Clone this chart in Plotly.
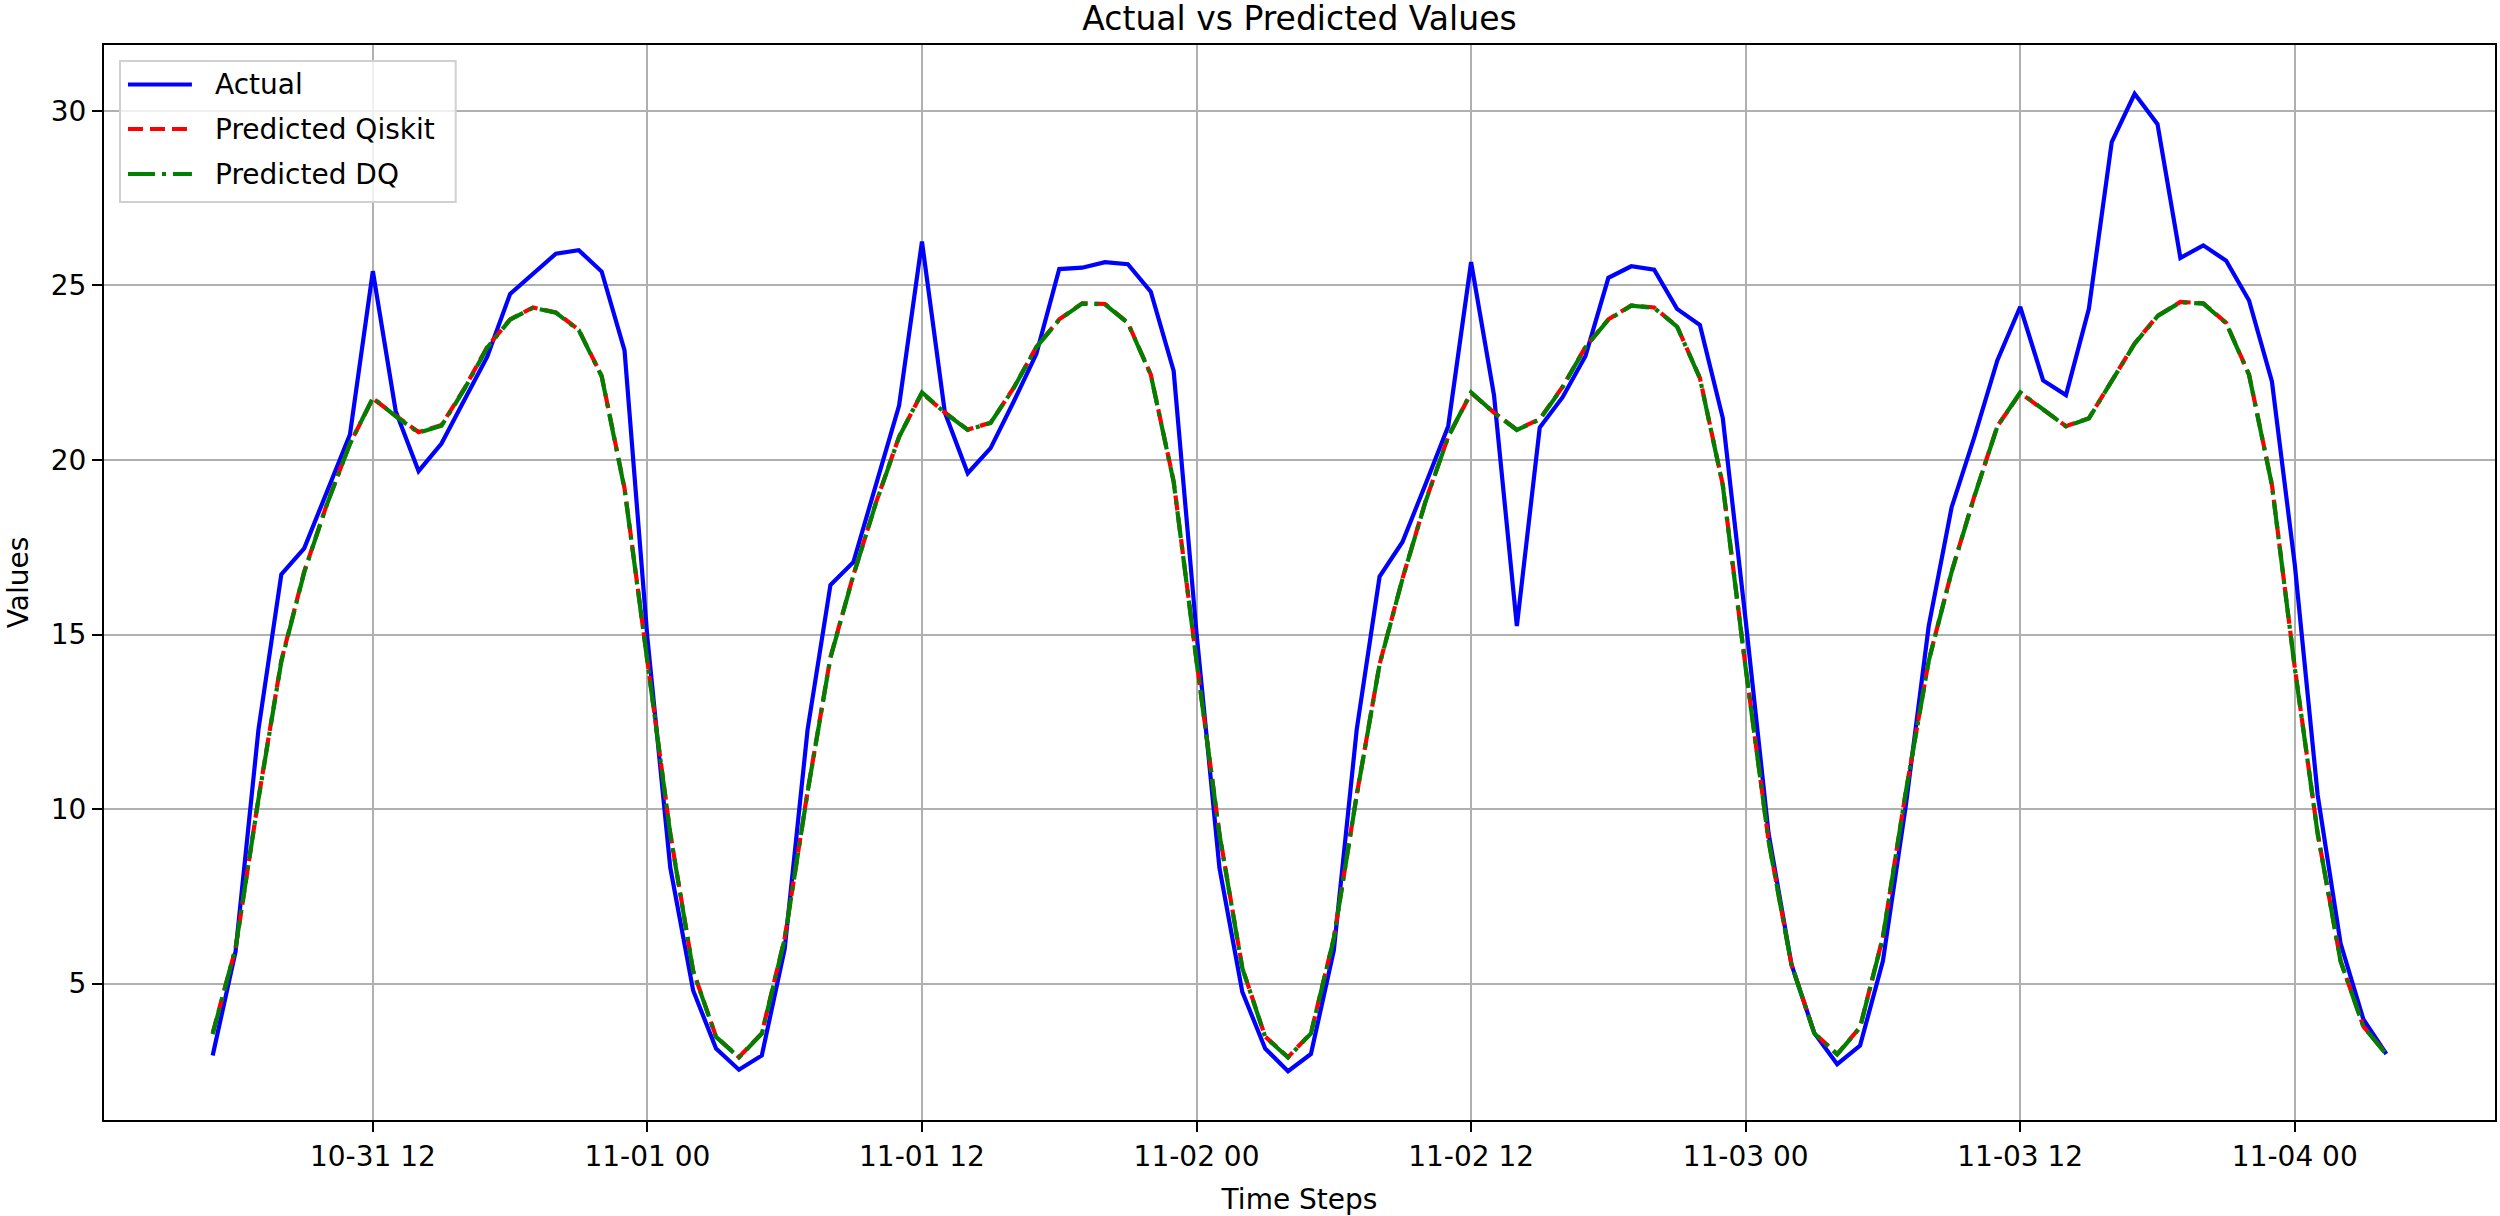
import pandas as pd
import plotly.graph_objs as go

# hourly time steps, 10-31 05:00 -> 11-04 04:00
time_steps = pd.date_range("2024-10-31 05:00", periods=96, freq="h")

actual = [
    2.94, 5.91, 12.27, 16.72, 17.47, 19.09, 20.73, 25.41, 21.40, 19.68, 20.47, 21.72,
    22.96, 24.76, 25.32, 25.91, 26.01, 25.40, 23.14, 14.90, 8.32, 4.80, 3.14, 2.53,
    2.94, 5.99, 12.27, 16.42, 17.07, 19.29, 21.56, 26.26, 21.36, 19.62, 20.34, 21.66,
    23.04, 25.47, 25.51, 25.67, 25.61, 24.82, 22.55, 15.04, 8.32, 4.76, 3.14, 2.49,
    2.98, 5.95, 12.27, 16.66, 17.65, 19.29, 20.97, 25.67, 21.86, 15.24, 20.93, 21.80,
    22.98, 25.22, 25.55, 25.45, 24.33, 23.87, 21.20, 15.40, 9.31, 5.55, 3.58, 2.69,
    3.22, 5.65, 10.10, 15.24, 18.64, 20.67, 22.85, 24.39, 22.28, 21.86, 24.33, 29.11,
    30.49, 29.62, 25.79, 26.15, 25.71, 24.57, 22.25, 17.00, 10.40, 6.15, 3.97, 2.98,
]

pred_qiskit = [
    3.58, 6.00, 10.30, 14.25, 16.80, 18.75, 20.47, 21.76, 21.27, 20.80, 21.00, 22.05,
    23.24, 24.03, 24.37, 24.23, 23.73, 22.41, 19.19, 14.25, 9.30, 5.36, 3.48, 2.89,
    3.58, 6.30, 10.50, 14.35, 16.70, 18.80, 20.67, 21.92, 21.36, 20.87, 21.07, 22.06,
    23.24, 24.03, 24.49, 24.47, 23.93, 22.45, 19.39, 14.25, 9.30, 5.45, 3.48, 2.89,
    3.58, 6.30, 10.40, 14.15, 16.60, 18.80, 20.67, 21.92, 21.36, 20.87, 21.17, 22.10,
    23.24, 24.03, 24.43, 24.37, 23.83, 22.35, 19.29, 14.05, 9.10, 5.55, 3.58, 2.98,
    3.75, 6.34, 10.50, 14.25, 16.80, 18.97, 20.97, 21.92, 21.46, 20.97, 21.20, 22.25,
    23.34, 24.13, 24.53, 24.49, 23.93, 22.45, 19.29, 14.05, 9.30, 5.65, 3.77, 2.98,
]

pred_dq = [
    3.55, 6.02, 10.28, 14.22, 16.78, 18.74, 20.46, 21.78, 21.25, 20.78, 20.98, 22.03,
    23.22, 24.02, 24.36, 24.22, 23.72, 22.40, 19.17, 14.22, 9.28, 5.35, 3.47, 2.88,
    3.56, 6.28, 10.48, 14.33, 16.69, 18.79, 20.66, 21.94, 21.35, 20.86, 21.06, 22.05,
    23.23, 24.02, 24.48, 24.46, 23.92, 22.44, 19.37, 14.23, 9.28, 5.44, 3.47, 2.88,
    3.57, 6.29, 10.39, 14.14, 16.59, 18.79, 20.66, 21.94, 21.35, 20.86, 21.16, 22.09,
    23.23, 24.02, 24.42, 24.36, 23.82, 22.34, 19.27, 14.03, 9.09, 5.54, 3.57, 2.97,
    3.74, 6.33, 10.49, 14.24, 16.79, 18.96, 20.96, 21.94, 21.45, 20.96, 21.19, 22.24,
    23.33, 24.12, 24.52, 24.48, 23.92, 22.44, 19.28, 14.04, 9.29, 5.64, 3.76, 2.97,
]

y_ticks = [5, 10, 15, 20, 25, 30]

series_names = ['Actual', 'Predicted Qiskit', 'Predicted DQ']
series_colors = ['blue', 'red', 'green']
series_dashes = ['solid', '15px,7px', '27px,7px,4px,7px']
series_values = [actual, pred_qiskit, pred_dq]

LW = 4.2

traces = []
for name, color, dash, vals in zip(series_names, series_colors, series_dashes, series_values):
    traces.append(go.Scatter(
        x=time_steps,
        y=vals,
        mode='lines',
        name=name,
        showlegend=False,
        line=dict(color=color, width=LW, dash=dash)
    ))

# matplotlib-like legend (long line samples), drawn in paper coords
W, H = 2500, 1216
ml, mr, mt, mb = 104, 3, 45, 96
pw, ph = W - ml - mr, H - mt - mb


def px(x):
    return (x - ml) / pw


def py(y):
    return 1 - (y - mt) / ph


shapes = [dict(
    type='rect', xref='paper', yref='paper',
    x0=px(120), x1=px(456), y0=py(202), y1=py(61),
    line=dict(color='#d0d0d0', width=2), fillcolor='rgba(255,255,255,0.8)',
    layer='above'
)]
annotations = []
row_y = [84.5, 129, 174]
for name, color, dash, ry in zip(series_names, series_colors, series_dashes, row_y):
    shapes.append(dict(
        type='line', xref='paper', yref='paper',
        x0=px(128), x1=px(192), y0=py(ry), y1=py(ry),
        line=dict(color=color, width=LW, dash=dash), layer='above'
    ))
    annotations.append(dict(
        text=name, xref='paper', yref='paper',
        x=px(213), y=py(ry), xanchor='left', yanchor='middle',
        showarrow=False, font=dict(size=28, color='black')
    ))

font_family = 'DejaVu Sans'

layout = go.Layout(
    width=W,
    height=H,
    margin=dict(l=ml, r=mr, t=mt, b=mb),
    paper_bgcolor='white',
    plot_bgcolor='white',
    font=dict(family=font_family, size=28, color='black'),
    title=dict(
        text='Actual vs Predicted Values',
        x=0.5, xref='paper', xanchor='center',
        y=1 - 18 / H, yref='container', yanchor='middle',
        font=dict(size=33, color='black')
    ),
    xaxis=dict(
        title=dict(text='Time Steps', font=dict(size=28), standoff=18),
        range=['2024-10-31 00:15', '2024-11-04 08:45'],
        tick0='2024-10-31 00:00',
        dtick=12 * 3600 * 1000,
        tickformat='%m-%d %H',
        ticks='outside', ticklen=10, tickwidth=2.2, tickcolor='black',
        showline=True, linecolor='black', linewidth=2.2, mirror=True,
        showgrid=True, gridcolor='#b0b0b0', gridwidth=2.2,
        zeroline=False
    ),
    yaxis=dict(
        title=dict(text='Values', font=dict(size=28), standoff=14),
        range=[1.09, 31.89],
        tickvals=y_ticks,
        ticks='outside', ticklen=10, tickwidth=2.2, tickcolor='black',
        showline=True, linecolor='black', linewidth=2.2, mirror=True,
        showgrid=True, gridcolor='#b0b0b0', gridwidth=2.2,
        zeroline=False
    ),
    shapes=shapes,
    annotations=annotations,
    showlegend=False
)

fig = go.Figure(data=traces, layout=layout)
fig.write_html("out.html", config={'displayModeBar': False},
               post_script="document.body.style.margin='0';")
